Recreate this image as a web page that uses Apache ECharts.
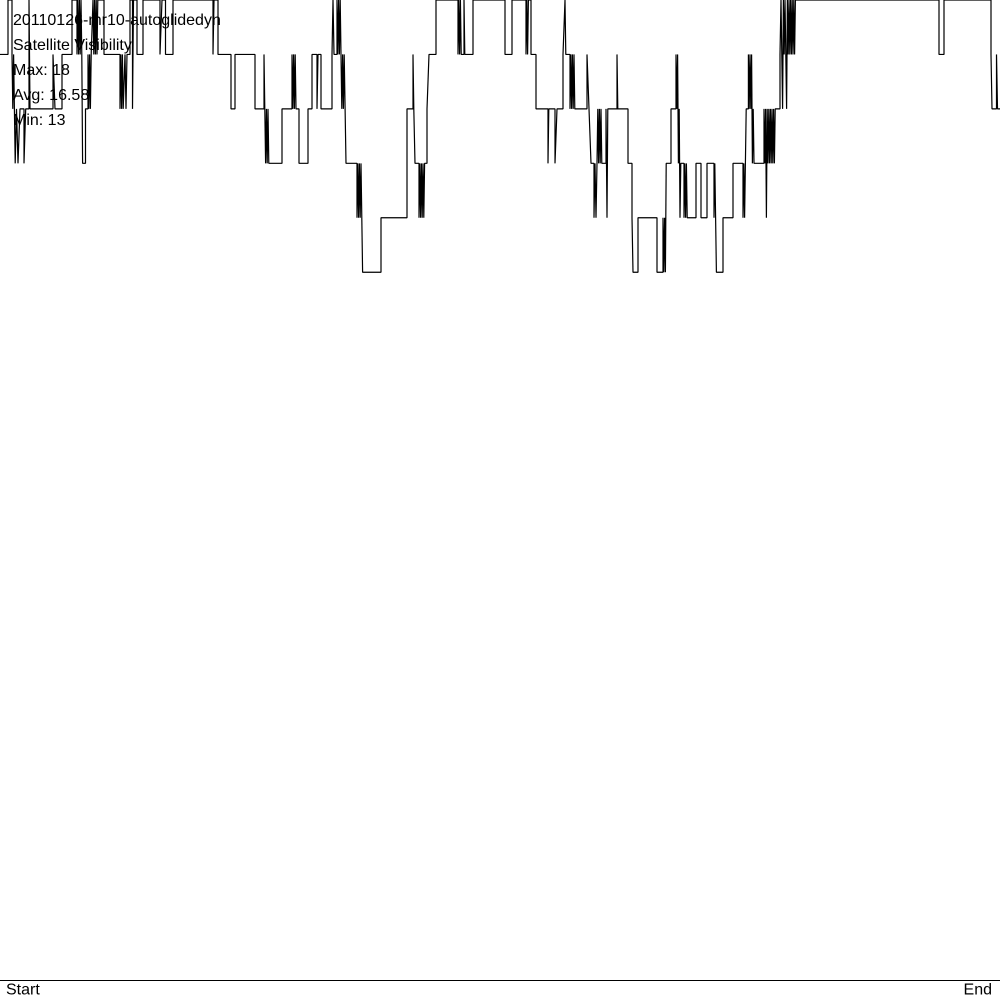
<!DOCTYPE html>
<html>
<head>
<meta charset="utf-8">
<title>Satellite Visibility</title>
<script src="https://cdn.jsdelivr.net/npm/echarts@6/dist/echarts.min.js"></script>
<style>
  html, body { margin: 0; padding: 0; background: #fff; }
  #chart { width: 1000px; height: 1000px; }
</style>
</head>
<body>
<div id="chart"></div>
<script>
// flight log name + summary lines in the top-left corner
const flightName = '20110126-mr10-autoglidedyn'
const statLines = ['Satellite Visibility', 'Max: 18', 'Avg: 16.58', 'Min: 13']
const axisEnds = ['Start', 'End']

// [sample position, satellites in view] - value holds until the next entry
// (fast flicker spots are kept >= 0.8 apart, echarts drops shorter segments)
const satSteps = [
  [0, 17], [8, 18], [12, 17], [12.8, 16], [13.6, 17], [14.4, 16], [15.2, 15], [16.5, 16], [18, 15], [20, 16],
  [24, 15], [25.7, 16], [29, 18], [30, 16], [53, 17], [55, 16], [62, 17], [72, 18],
  [77, 17], [77.8, 18], [78.6, 17], [79.4, 18], [80.2, 17], [81, 18], [81.8, 17], [82.6, 15], [85.5, 16],
  [88, 17], [88.8, 16], [89.6, 17], [90.4, 16], [91.2, 17],
  [93, 18], [93.8, 17], [94.6, 18], [95.4, 17], [96.2, 18], [97, 17], [97.8, 18], [104, 17],
  [120, 16], [120.8, 17], [121.6, 16], [122.4, 17], [123.2, 16], [125, 17], [126, 16], [127, 17],
  [130, 18], [132.5, 16], [133.5, 18], [137, 17], [143, 18], [160, 17], [162, 18], [165.5, 17], [173, 18],
  [213, 17], [214, 18], [218, 17], [231, 16], [235, 17], [255, 16],
  [264, 17], [264.8, 16], [265.6, 15], [266.4, 16], [267.2, 15], [268, 16], [268.8, 15], [282, 16],
  [292, 17], [292.8, 16], [293.6, 17], [294.4, 16], [295.2, 17], [296, 16],
  [299, 15], [308, 16], [312, 17], [317, 16], [318, 17], [321, 16],
  [332, 17], [333, 18], [334, 17], [337, 18], [337.8, 17], [338.6, 18], [339.4, 17], [340.2, 18], [341, 17],
  [341.8, 16], [342.6, 17], [343.4, 16], [344.2, 17], [346, 15],
  [357, 14], [357.8, 15], [358.6, 14], [359.4, 15], [360.2, 14], [361, 15], [361.8, 14], [362.6, 13], [381, 14],
  [407, 16], [413, 17], [413.8, 16], [415, 15],
  [419, 14], [419.8, 15], [420.6, 14], [421.4, 15], [422.2, 14], [423, 15], [423.8, 14], [424.6, 15],
  [427, 16], [429, 17], [436, 18],
  [458, 17], [458.8, 18], [459.6, 17], [460.4, 18], [461.2, 17], [464, 18], [464.8, 17], [473, 18],
  [505, 17], [512, 18], [526, 17], [526.8, 18], [527.6, 17], [528.4, 18], [531, 17],
  [536, 16], [548, 15], [548.8, 16], [555, 15], [557, 16], [563, 17], [565, 18], [565.8, 17],
  [570, 16], [570.8, 17], [571.6, 16], [572.4, 17], [573.2, 16], [574, 17], [574.8, 16],
  [587, 17], [589, 16], [591, 15],
  [594, 14], [595, 15], [596, 14], [597, 15], [597.8, 16], [598.6, 15], [599.4, 16], [600.2, 15], [601, 16], [601.8, 15],
  [606, 16], [607, 14], [607.8, 16], [617, 17], [617.8, 16],
  [628, 15], [632, 14], [633, 13], [638, 14], [657, 13],
  [663, 14], [663.8, 13], [664.6, 14], [665.4, 13], [666.2, 15], [671, 16],
  [676, 17], [676.8, 16], [677.6, 17], [678.4, 15], [679.2, 16], [680, 14], [680.8, 15],
  [684, 14], [684.8, 15], [685.6, 14], [686.4, 15], [687.2, 14], [696, 15], [701, 14], [707, 15],
  [714, 14], [714.8, 15], [715.6, 14], [716.4, 13], [723, 14], [733, 15],
  [743, 14], [743.8, 15], [744.6, 14], [745.4, 15], [746.2, 16],
  [748.4, 17], [749.2, 16], [750, 17], [750.8, 16], [751.6, 17], [752.4, 15], [753.2, 16], [754, 15],
  [764, 16], [764.8, 15], [765.6, 16], [766.4, 14], [767.2, 16], [768, 15], [768.8, 16], [769.6, 15], [770.4, 16],
  [771.2, 15], [772, 16], [772.8, 15], [773.6, 16], [774.4, 15], [775.2, 16],
  [780, 17], [781, 18], [781.8, 17], [782.6, 16], [783.4, 18], [784.2, 17], [785, 18], [785.8, 17], [786.6, 16],
  [787.4, 18], [788.2, 17], [789, 18], [789.8, 17], [790.6, 18], [791.4, 17], [792.2, 18], [793, 17], [793.8, 18],
  [794.6, 17], [795.4, 18],
  [939, 17], [944, 18], [991, 17], [992, 16], [996.5, 17], [997.5, 16], [1000, 16]
]

// dpr 2 so zrender keeps the sub-pixel flicker segments instead of merging them
const chart = echarts.init(document.getElementById('chart'), null, { renderer: 'canvas', devicePixelRatio: 2 })

const option = {
  animation: false,
  backgroundColor: '#fff',
  textStyle: { fontFamily: 'Liberation Sans, Arial, sans-serif' },
  title: {
    left: 13,
    top: 8,
    padding: 0,
    text: [flightName].concat(statLines).join('\n'),
    textStyle: {
      fontSize: 16,
      fontWeight: 'normal',
      color: '#000',
      lineHeight: 25,
      fontFamily: 'Liberation Sans, Arial, sans-serif'
    }
  },
  grid: { left: 0, right: 0, top: 0, bottom: 20, containLabel: false },
  xAxis: {
    type: 'value',
    min: 0,
    max: 1000,
    interval: 1000,
    axisLine: { show: true, lineStyle: { color: '#000', width: 1 } },
    axisTick: { show: false },
    splitLine: { show: false },
    axisLabel: {
      margin: 2,
      fontSize: 16,
      color: '#000',
      alignMinLabel: 'left',
      alignMaxLabel: 'right',
      padding: [0, 8, 0, 6],
      formatter: v => (v === 0 ? axisEnds[0] : axisEnds[1])
    }
  },
  yAxis: {
    type: 'value',
    min: 0,
    max: 18,
    show: false
  },
  series: [{
    type: 'line',
    step: 'end',
    symbol: 'none',
    data: satSteps,
    lineStyle: { color: '#000', width: 1.2 }
  }]
}

chart.setOption(option)
</script>
</body>
</html>
